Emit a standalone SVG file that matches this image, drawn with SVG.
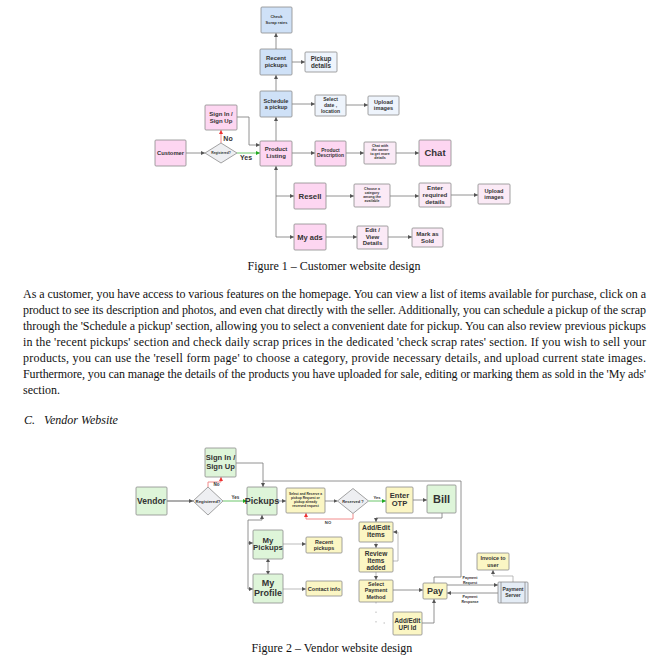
<svg xmlns="http://www.w3.org/2000/svg" width="668" height="665" viewBox="0 0 668 665">
<style>
.b{stroke:#8c8c8c;stroke-width:0.8}
.blue{fill:#cfe1f7}
.lblue{fill:#eef4fc}
.pink{fill:#fdd6f1}
.lpink{fill:#fbeaf6}
.green{fill:#def5d9}
.yel{fill:#fbf6c4}
.dia{fill:#eeeff2;stroke:#8c8c8c;stroke-width:0.8}
.t{font-family:"Liberation Sans",Arial,sans-serif;font-weight:bold;fill:#333;text-anchor:middle;dominant-baseline:central}
.c{stroke:#777;stroke-width:0.8;fill:none}
.cl{stroke:#aaa;stroke-width:0.8;fill:none}
.red{stroke:#f08080;stroke-width:0.9;fill:none}
.grn{stroke:#5cbf5c;stroke-width:0.9;fill:none}
.serif{font-family:"Liberation Serif","Times New Roman",serif;font-size:12px;fill:#111}
</style>
<defs>
<marker id="ah" viewBox="0 0 6 6" refX="6" refY="3" markerWidth="4" markerHeight="4" orient="auto" markerUnits="userSpaceOnUse"><path d="M0,0 L6,3 L0,6 z" fill="#555"/></marker>
<marker id="ahr" viewBox="0 0 6 6" refX="6" refY="3" markerWidth="4" markerHeight="4" orient="auto" markerUnits="userSpaceOnUse"><path d="M0,0 L6,3 L0,6 z" fill="#e33"/></marker>
<marker id="ahg" viewBox="0 0 6 6" refX="6" refY="3" markerWidth="4" markerHeight="4" orient="auto" markerUnits="userSpaceOnUse"><path d="M0,0 L6,3 L0,6 z" fill="#2a2"/></marker>
<marker id="ahs" viewBox="0 0 6 6" refX="3" refY="3" markerWidth="4" markerHeight="4" orient="auto-start-reverse" markerUnits="userSpaceOnUse"><path d="M0,0 L6,3 L0,6 z" fill="#555"/></marker>
</defs>
<rect width="668" height="665" fill="#fff"/>

<!-- Figure 1 connectors -->
<g id="connectors1">
<path class="c" d="M276,141 V117" marker-end="url(#ah)"/>
<path class="c" d="M276,91 V75" marker-end="url(#ah)"/>
<path class="c" d="M276,49 V33" marker-end="url(#ah)"/>
<path class="c" d="M292,62 H305" marker-end="url(#ah)"/>
<path class="c" d="M292,104 H315" marker-end="url(#ah)"/>
<path class="c" d="M346,105 H368" marker-end="url(#ah)"/>
<path class="c" d="M186,153 H205" marker-end="url(#ah)"/>
<path class="red" d="M221,143 V130" marker-end="url(#ahr)"/>
<path class="grn" d="M237,153 H260" marker-end="url(#ahg)"/>
<path class="c" d="M237,117 H249 V145 H260" marker-end="url(#ah)"/>
<path class="c" d="M292,153 H315" marker-end="url(#ah)"/>
<path class="c" d="M346,153 H364" marker-end="url(#ah)"/>
<path class="c" d="M396,153 H419" marker-end="url(#ah)"/>
<path class="c" d="M276,237 V166" marker-end="url(#ah)"/>
<path class="c" d="M276,196 H294" marker-end="url(#ah)"/>
<path class="c" d="M276,237 H294" marker-end="url(#ah)"/>
<path class="c" d="M326,196 H354" marker-end="url(#ah)"/>
<path class="c" d="M390,196 H419" marker-end="url(#ah)"/>
<path class="c" d="M451,195 H478" marker-end="url(#ah)"/>
<path class="c" d="M326,237 H357" marker-end="url(#ah)"/>
<path class="c" d="M388,237 H412" marker-end="url(#ah)"/>
<text class="t" x="228" y="138.5" font-size="7">No</text>
<text class="t" x="246" y="157.5" font-size="7">Yes</text>
</g>

<!-- Figure 1 nodes -->
<g id="check-rates"><rect class="b blue" x="261" y="7" width="31" height="26" rx="1"/><text class="t" x="276.5" y="16.7" font-size="4">Check</text><text class="t" x="276.5" y="22.3" font-size="4">Scrap rates</text></g>
<g id="recent-pickups"><rect class="b blue" x="260" y="49" width="32" height="26" rx="1"/><text class="t" x="276" y="58.3" font-size="6">Recent</text><text class="t" x="276" y="65" font-size="6">pickups</text></g>
<g id="pickup-details"><rect class="b lblue" x="305" y="52" width="32" height="20" rx="1"/><text class="t" x="321" y="58.5" font-size="6.3">Pickup</text><text class="t" x="321" y="65.5" font-size="6.3">details</text></g>
<g id="schedule"><rect class="b blue" x="260" y="91" width="32" height="26" rx="1"/><text class="t" x="276" y="100.7" font-size="5.6">Schedule</text><text class="t" x="276" y="107.3" font-size="5.6">a pickup</text></g>
<g id="select-date"><rect class="b lblue" x="315" y="95" width="31" height="21" rx="1"/><text class="t" x="330.5" y="98.5" font-size="5">Select</text><text class="t" x="330.5" y="104.5" font-size="5">date ,</text><text class="t" x="330.5" y="110.7" font-size="5">location</text></g>
<g id="upload-images-1"><rect class="b lblue" x="368" y="96" width="31" height="19" rx="1"/><text class="t" x="383.5" y="101.7" font-size="5.6">Upload</text><text class="t" x="383.5" y="108.3" font-size="5.6">images</text></g>
<g id="signin"><rect class="b pink" x="205" y="105" width="32" height="25" rx="1"/><text class="t" x="221" y="114" font-size="6">Sign In /</text><text class="t" x="221" y="120.5" font-size="6">Sign Up</text></g>
<g id="customer"><rect class="b pink" x="155" y="140" width="31" height="26" rx="1"/><text class="t" x="170.5" y="153" font-size="5.8">Customer</text></g>
<g id="registered"><path class="dia" d="M221,143 L237,153 L221,163 L205,153 Z"/><text class="t" x="221" y="153" font-size="3.4">Registered?</text></g>
<g id="product-listing"><rect class="b pink" x="260" y="141" width="32" height="25" rx="1"/><text class="t" x="276" y="149.3" font-size="6">Product</text><text class="t" x="276" y="155.8" font-size="6">Listing</text></g>
<g id="product-description"><rect class="b pink" x="315" y="141" width="31" height="25" rx="1"/><text class="t" x="330.5" y="150" font-size="4.9">Product</text><text class="t" x="330.5" y="155.5" font-size="4.9">Description</text></g>
<g id="chat-with"><rect class="b lpink" x="364" y="142" width="32" height="22" rx="1"/><text class="t" x="380" y="146.4" font-size="3.6">Chat with</text><text class="t" x="380" y="150.2" font-size="3.6">the owner</text><text class="t" x="380" y="154" font-size="3.6">to get more</text><text class="t" x="380" y="157.8" font-size="3.6">details</text></g>
<g id="chat"><rect class="b pink" x="419" y="140" width="32" height="26" rx="1"/><text class="t" x="435" y="152" font-size="9.5">Chat</text></g>
<g id="resell"><rect class="b pink" x="294" y="183" width="32" height="26" rx="1"/><text class="t" x="310" y="196" font-size="7.8">Resell</text></g>
<g id="choose-category"><rect class="b lpink" x="354" y="184" width="36" height="23" rx="1"/><text class="t" x="372" y="189" font-size="3.5">Choose a</text><text class="t" x="372" y="193.2" font-size="3.5">category</text><text class="t" x="372" y="197.3" font-size="3.5">among the</text><text class="t" x="372" y="201.3" font-size="3.5">available</text></g>
<g id="enter-details"><rect class="b lpink" x="419" y="183" width="32" height="24" rx="1"/><text class="t" x="435" y="187" font-size="6.2">Enter</text><text class="t" x="435" y="194.2" font-size="6.2">required</text><text class="t" x="435" y="201.5" font-size="6.2">details</text></g>
<g id="upload-images-2"><rect class="b lpink" x="478" y="184" width="32" height="20" rx="1"/><text class="t" x="494" y="190.7" font-size="5.6">Upload</text><text class="t" x="494" y="197" font-size="5.6">images</text></g>
<g id="my-ads"><rect class="b pink" x="294" y="224" width="32" height="26" rx="1"/><text class="t" x="310" y="237" font-size="7.5">My ads</text></g>
<g id="edit-view"><rect class="b lpink" x="357" y="226" width="31" height="23" rx="1"/><text class="t" x="372.5" y="230.2" font-size="6">Edit /</text><text class="t" x="372.5" y="236.8" font-size="6">View</text><text class="t" x="372.5" y="243.4" font-size="6">Details</text></g>
<g id="mark-sold"><rect class="b lpink" x="412" y="228" width="31" height="19" rx="1"/><text class="t" x="427.5" y="234.3" font-size="6">Mark as</text><text class="t" x="427.5" y="240.8" font-size="6">Sold</text></g>

<text class="serif" x="334" y="270" text-anchor="middle">Figure 1 – Customer website design</text>

<g id="paragraph" class="serif">
<text x="23" y="298" textLength="623" lengthAdjust="spacing">As a customer, you have access to various features on the homepage. You can view a list of items available for purchase, click on a</text>
<text x="23" y="314" textLength="623" lengthAdjust="spacing">product to see its description and photos, and even chat directly with the seller. Additionally, you can schedule a pickup of the scrap</text>
<text x="23" y="330" textLength="623" lengthAdjust="spacing">through the 'Schedule a pickup' section, allowing you to select a convenient date for pickup. You can also review previous pickups</text>
<text x="23" y="346" textLength="623" lengthAdjust="spacing">in the 'recent pickups' section and check daily scrap prices in the dedicated 'check scrap rates' section. If you wish to sell your</text>
<text x="23" y="362" textLength="623" lengthAdjust="spacing">products, you can use the 'resell form page' to choose a category, provide necessary details, and upload current state images.</text>
<text x="23" y="378" textLength="623" lengthAdjust="spacing">Furthermore, you can manage the details of the products you have uploaded for sale, editing or marking them as sold in the 'My ads'</text>
<text x="23" y="394">section.</text>
</g>
<text class="serif" x="24" y="424" font-style="italic">C.<tspan x="44">Vendor Website</tspan></text>

<!-- Figure 2 connectors -->
<g id="connectors2">
<path d="M167,501 H193" stroke="#999" stroke-width="1.6" fill="none" marker-end="url(#ah)"/>
<path class="grn" d="M223,501 H247" marker-end="url(#ahg)"/>
<path class="red" d="M208,487 V482 H221 V477" marker-end="url(#ahr)"/>
<path class="c" d="M236,463 H263 V487" marker-end="url(#ah)"/>
<path class="c" d="M434,583 V577 H461 V481 H263"/>
<path class="c" d="M277,501 H286" marker-end="url(#ah)"/>
<path class="c" d="M325,501 H337.5" marker-end="url(#ah)"/>
<path class="grn" d="M368.5,501 H386" marker-end="url(#ahg)"/>
<path class="red" d="M353,513.5 V519 H306 V513" marker-end="url(#ahr)"/>
<path class="c" d="M413,500 H427" marker-end="url(#ah)"/>
<path class="c" d="M442,513 V518 H376 V522" marker-end="url(#ah)"/>
<path class="cl" d="M376,542 V548" marker-end="url(#ah)"/>
<path class="cl" d="M393,561 H398 V532 H393" marker-end="url(#ah)"/>
<path class="cl" d="M376,572 V580" marker-end="url(#ah)"/>
<path class="c" d="M393,590 H423" marker-end="url(#ah)"/>
<path class="cl" d="M376,602 V623 H393" stroke-dasharray="1.5 8"/>
<path class="c" d="M422,623 H434 V599" marker-end="url(#ah)"/>
<path class="c" d="M447,585 H498" marker-end="url(#ah)"/>
<path class="c" d="M498,593 H447" marker-end="url(#ah)"/>
<path class="cl" d="M513,582 V576 H493 V570" marker-end="url(#ah)"/>
<path class="c" d="M248,589 V520 H262 V515" marker-end="url(#ah)"/>
<path class="c" d="M248,543 H253" marker-end="url(#ah)"/>
<path class="c" d="M248,589 H253" marker-end="url(#ah)"/>
<path class="c" d="M268,560 V573" marker-start="url(#ahs)" marker-end="url(#ahs)"/>
<path class="cl" d="M283,544 H306" marker-end="url(#ah)"/>
<path class="cl" d="M283,589 H306" marker-end="url(#ah)"/>
<text class="t" x="216.5" y="484.5" font-size="4.5">No</text>
<text class="t" x="235.5" y="497.3" font-size="4.5">Yes</text>
<text class="t" x="377" y="497.3" font-size="4.2">Yes</text>
<text class="t" x="328" y="522.5" font-size="4.2">NO</text>
<text class="t" x="470" y="578" font-size="3.6" fill="#555">Payment</text>
<text class="t" x="470" y="582.8" font-size="3.6">Request</text>
<text class="t" x="470" y="597.3" font-size="3.6">Payment</text>
<text class="t" x="470" y="602" font-size="3.6">Response</text>
</g>

<!-- Figure 2 nodes -->
<g id="v-signin"><rect class="b green" x="205" y="448" width="31" height="29" rx="1"/><text class="t" x="220.5" y="457.3" font-size="7.6">Sign In /</text><text class="t" x="220.5" y="466" font-size="7.6">Sign Up</text></g>
<g id="vendor"><rect class="b green" x="136" y="487" width="31" height="28" rx="1"/><text class="t" x="151.5" y="501" font-size="8.5" fill="#111">Vendor</text></g>
<g id="v-registered"><path class="dia" d="M208,487 L223,501 L208,515 L193,501 Z"/><text class="t" x="208" y="501" font-size="4.3" fill="#111">Registered?</text></g>
<g id="pickups"><rect class="b green" x="247" y="487" width="30" height="28" rx="1"/><text class="t" x="262" y="501" font-size="9">Pickups</text></g>
<g id="select-reserve"><rect class="b yel" x="286" y="488" width="39" height="25" rx="1"/><text class="t" x="305.5" y="494.2" font-size="3.3">Select and Reserve a</text><text class="t" x="305.5" y="498.2" font-size="3.3">pickup Request or</text><text class="t" x="305.5" y="502.2" font-size="3.3">pickup already</text><text class="t" x="305.5" y="506.2" font-size="3.3">reserved request</text></g>
<g id="reserved"><path class="dia" d="M353,488.5 L368.5,501 L353,513.5 L337.5,501 Z"/><text class="t" x="353" y="501" font-size="4" fill="#111">Reserved ?</text></g>
<g id="enter-otp"><rect class="b yel" x="386" y="487" width="27" height="26" rx="1"/><text class="t" x="399.5" y="495.8" font-size="7.6" fill="#222">Enter</text><text class="t" x="399.5" y="503.5" font-size="7.6" fill="#222">OTP</text></g>
<g id="bill"><rect class="b green" x="427" y="485" width="29" height="28" rx="1"/><text class="t" x="441.5" y="498.5" font-size="11" fill="#222">Bill</text></g>
<g id="add-edit-items"><rect class="b yel" x="359" y="522" width="34" height="20" rx="1"/><text class="t" x="376" y="527" font-size="6.8">Add/Edit</text><text class="t" x="376" y="534.5" font-size="6.8">items</text></g>
<g id="review-items"><rect class="b yel" x="359" y="548" width="34" height="24" rx="1"/><text class="t" x="376" y="553.3" font-size="6.5">Review</text><text class="t" x="376" y="560.4" font-size="6.5">Items</text><text class="t" x="376" y="567.6" font-size="6.5">added</text></g>
<g id="select-payment"><rect class="b yel" x="359" y="580" width="34" height="22" rx="1"/><text class="t" x="376" y="583.8" font-size="5.4">Select</text><text class="t" x="376" y="590.3" font-size="5.4">Payment</text><text class="t" x="376" y="597" font-size="5.4">Method</text></g>
<g id="pay"><rect class="b yel" x="423" y="583" width="24" height="16" rx="1"/><text class="t" x="435" y="591" font-size="9">Pay</text></g>
<g id="upi"><rect class="b yel" x="393" y="612" width="29" height="23" rx="1"/><text class="t" x="407.5" y="620" font-size="6.3">Add/Edit</text><text class="t" x="407.5" y="627.4" font-size="6.3">UPI Id</text></g>
<g id="invoice"><rect class="b yel" x="477" y="553" width="32" height="17" rx="1"/><text class="t" x="493" y="558.4" font-size="5.4">Invoice to</text><text class="t" x="493" y="565" font-size="5.4">user</text></g>
<g id="payment-server"><rect class="b" fill="#e4ecf5" x="498" y="582" width="30" height="21" rx="1"/><path d="M501,582 V603 M525,582 V603" stroke="#8c8c8c" stroke-width="0.8"/><text class="t" x="513" y="589.3" font-size="5">Payment</text><text class="t" x="513" y="595.2" font-size="5">Server</text></g>
<g id="my-pickups"><rect class="b green" x="253" y="530" width="30" height="29" rx="1"/><text class="t" x="268" y="540" font-size="7.8">My</text><text class="t" x="268" y="547.8" font-size="7.8">Pickups</text></g>
<g id="my-profile"><rect class="b green" x="253" y="574" width="30" height="29" rx="1"/><text class="t" x="268" y="582.7" font-size="9">My</text><text class="t" x="268" y="592.7" font-size="9">Profile</text></g>
<g id="v-recent"><rect class="b yel" x="306" y="537" width="36" height="16" rx="1"/><text class="t" x="324" y="541.5" font-size="5.4">Recent</text><text class="t" x="324" y="547.8" font-size="5.4">pickups</text></g>
<g id="contact"><rect class="b yel" x="306" y="581" width="36" height="15" rx="1"/><text class="t" x="324" y="588.5" font-size="5.6">Contact info</text></g>

<text class="serif" x="332" y="652" text-anchor="middle">Figure 2 – Vendor website design</text>
</svg>
